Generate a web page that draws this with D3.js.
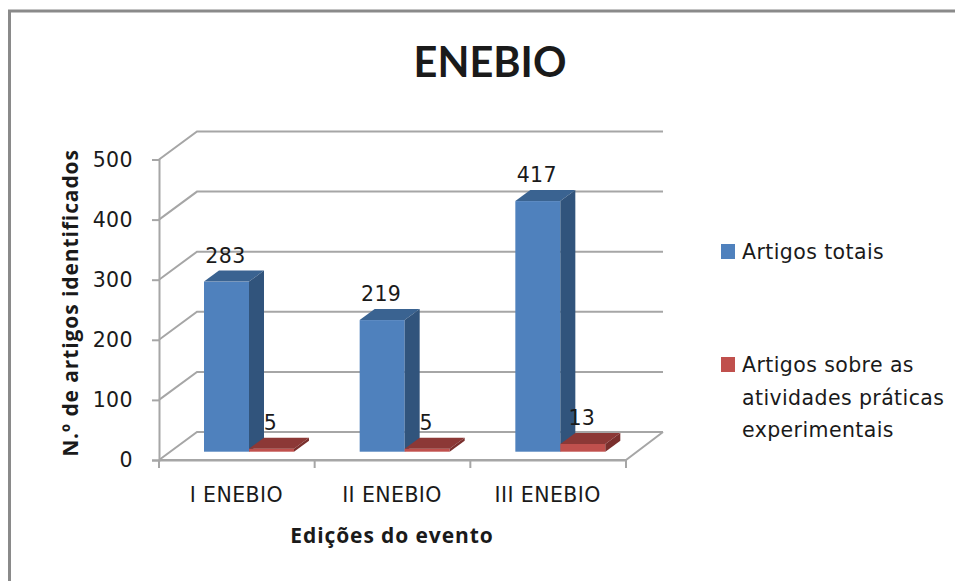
<!DOCTYPE html>
<html>
<head>
<meta charset="utf-8">
<title>ENEBIO</title>
<script src="https://cdnjs.cloudflare.com/ajax/libs/d3/7.8.5/d3.min.js"></script>
<style>
  html, body { margin: 0; padding: 0; background: #fff; }
  svg { display: block; }
  text { font-family: "DejaVu Sans", sans-serif; fill: #1a1a1a; letter-spacing: 0.4px; }
  .title { font-family: Lato, sans-serif; letter-spacing: 0; }
  .bold { font-family: "Open Sans", sans-serif; letter-spacing: 0.9px; }
</style>
</head>
<body>
<script>
var categories = ["I ENEBIO", "II ENEBIO", "III ENEBIO"];
var totais = [283, 219, 417];
var praticas = [5, 5, 13];
var yTicks = [0, 100, 200, 300, 400, 500];
var legendLines = [["Artigos totais"], ["Artigos sobre as", "atividades práticas", "experimentais"]];

var W = 955, H = 581;
var depth = { x: 38, y: -28 };        // floor depth
var barDepth = { x: 15, y: -11 };
var barW = 45;
var fontSize = 20.5;

var svg = d3.select("body").append("svg").attr("width", W).attr("height", H);

// frame
svg.append("path")
    .attr("d", "M9.5,581V11H955")
    .attr("fill", "none").attr("stroke", "#8a8a8a").attr("stroke-width", 3);

svg.append("text").attr("class", "title").attr("x", 490).attr("y", 77)
    .attr("text-anchor", "middle")
    .attr("font-size", 41.5).attr("font-weight", 700)
    .text("ENEBIO");

var x = d3.scaleBand().domain(categories).range([159, 626]);
var y = d3.scaleLinear().domain([0, 500]).range([460, 159.5]);
var yBar = d3.scaleLinear().domain([0, 500]).range([451.7, 151.2]);

var grid = "#a6a6a6";

// walls: gridlines from the front axis to the back, then across
svg.append("g").selectAll("path").data(yTicks).enter().append("path")
    .attr("d", function (d) {
        return "M" + 159 + "," + y(d) + "L" + (159 + depth.x) + "," + (y(d) + depth.y) + "H663";
    })
    .attr("fill", "none").attr("stroke", grid).attr("stroke-width", 2);

// floor
svg.append("path")
    .attr("d", "M159," + y(0) + "H626L663," + (y(0) + depth.y))
    .attr("fill", "none").attr("stroke", grid).attr("stroke-width", 2);

// axes
var axisY = d3.axisLeft(y).tickValues(yTicks).tickSize(7).tickPadding(19);
var gy = svg.append("g").attr("transform", "translate(159,0)").call(axisY);
var axisX = d3.axisBottom(x).tickValues([]).tickSize(0);
var gx = svg.append("g").attr("transform", "translate(0,460)").call(axisX);
gy.selectAll("line, path").attr("stroke", grid).attr("stroke-width", 2);
gx.select("path").attr("stroke", grid).attr("stroke-width", 2);
gy.selectAll("text").attr("font-size", fontSize).attr("fill", "#1a1a1a");

// x ticks sit on the band edges
svg.append("g").selectAll("line")
    .data(categories.map(function (c) { return x(c); }).concat([x.range()[1]]))
    .enter().append("line")
    .attr("x1", function (d) { return d; }).attr("x2", function (d) { return d; })
    .attr("y1", 460).attr("y2", 468)
    .attr("stroke", grid).attr("stroke-width", 2);

svg.append("g").selectAll("text").data(categories).enter().append("text")
    .attr("x", function (d) { return x(d) + x.bandwidth() / 2 - 0.5; })
    .attr("y", 502).attr("text-anchor", "middle").attr("font-size", fontSize)
    .text(function (d) { return d; });

// bars, red goes over the blue side face like in the original
function drawBars(values, off, front, top, side) {
    var g = svg.append("g");
    values.forEach(function (v, i) {
        var x0 = x(categories[i]) + off;
        var y0 = yBar(v), y1 = yBar(0);
        var dx = barDepth.x, dy = barDepth.y;
        g.append("rect").attr("x", x0).attr("y", y0).attr("width", barW).attr("height", y1 - y0).attr("fill", front);
        g.append("path").attr("fill", top)
            .attr("d", "M" + x0 + "," + y0 + "l" + dx + "," + dy + "h" + barW + "l" + (-dx) + "," + (-dy) + "z");
        g.append("path").attr("fill", side)
            .attr("d", "M" + (x0 + barW) + "," + y0 + "l" + dx + "," + dy + "V" + (y1 + dy) + "L" + (x0 + barW) + "," + y1 + "z");
    });
}
drawBars(totais, 45, "#4f81bd", "#3a6391", "#31547c");
drawBars(praticas, 90, "#c0504d", "#8c3836", "#7a2f2d");

// value labels go over all the bars
function drawLabels(values, off) {
    svg.append("g").selectAll("text").data(values).enter().append("text")
        .attr("x", function (d, i) { return x(categories[i]) + off + barW / 2 - 1; })
        .attr("y", function (d) { return yBar(d) + barDepth.y - 8; })
        .attr("text-anchor", "middle").attr("font-size", fontSize)
        .text(function (d) { return d; });
}
drawLabels(praticas, 90);
drawLabels(totais, 45);

// legend
var legendColors = ["#4f81bd", "#c0504d"];
var legendY = [251, 364];
legendLines.forEach(function (lines, i) {
    svg.append("rect").attr("x", 721).attr("y", legendY[i] - 7).attr("width", 14).attr("height", 15)
        .attr("fill", legendColors[i]);
    lines.forEach(function (l, j) {
        svg.append("text").attr("x", 742).attr("y", legendY[i] + 8 + j * 32.5)
            .attr("font-size", fontSize).text(l);
    });
});

// axis titles
svg.append("text").attr("class", "bold").attr("x", 392).attr("y", 543).attr("text-anchor", "middle")
    .attr("font-size", 21).attr("font-weight", 700).text("Edições do evento");
svg.append("text").attr("class", "bold").attr("transform", "translate(78,303) rotate(-90)").attr("text-anchor", "middle")
    .attr("font-size", 21).attr("font-weight", 700).text("N.º  de artigos identificados");
</script>
</body>
</html>
